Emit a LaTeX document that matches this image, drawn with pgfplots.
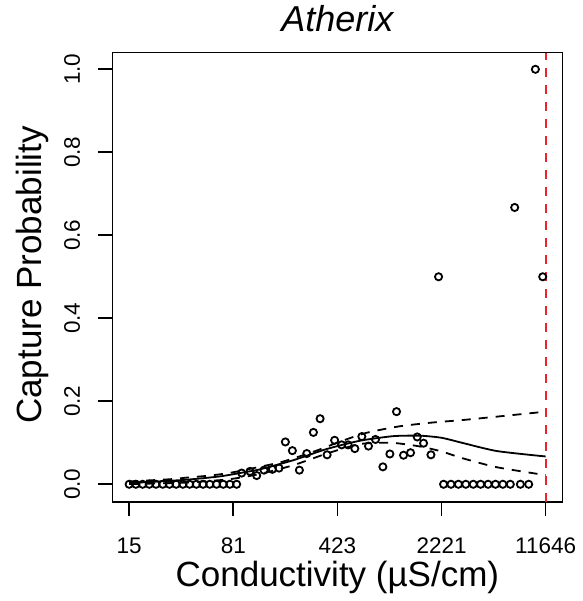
\documentclass[border=0pt]{standalone}
\usepackage{fontspec}
\setmainfont{Liberation Sans}
\usepackage{pgfplots}
\pgfplotsset{compat=1.18}
\definecolor{rred}{RGB}{235,35,45}
\begin{document}
\begin{tikzpicture}
\begin{axis}[name=ax, scale only axis, width=449.8pt, height=449pt,
  xmin=2.442, xmax=9.629, ymin=-0.042, ymax=1.04,
  axis line style={line width=1.6pt},
  every tick/.style={black, line width=1.6pt},
  tick align=outside, major tick length=14pt,
  xtick pos=left, ytick pos=left,
  xtick={2.708,4.372,6.036,7.700,9.363},
  xticklabels={15,81,423,2221,11646},
  ytick={0,0.2,0.4,0.6,0.8,1.0},
  yticklabels={0.0,0.2,0.4,0.6,0.8,1.0},
  ticklabel style={font=\fontsize{22.5}{22.5}\selectfont},
  xticklabel style={anchor=north, inner sep=0pt},
  yticklabel style={rotate=90, anchor=base, inner sep=0pt},
  xticklabel shift=22pt, yticklabel shift=18.5pt,
  title={\itshape Atherix},
  title style={at={(0.5,1.0343)}, anchor=base, inner sep=0pt, font=\fontsize{36}{36}\selectfont},
  xlabel={Conductivity (µS/cm)},
  xlabel style={at={(0.5,-0.1893)}, anchor=base, inner sep=0pt, font=\fontsize{35}{35}\selectfont},
  ylabel={Capture Probability},
  ylabel style={at={(-0.1574,0.505)}, rotate=0, anchor=base, inner sep=0pt, font=\fontsize{35}{35}\selectfont},
  clip=true,
]
% observed capture proportions
\addplot[only marks, mark=o, mark size=3.6pt, mark options={line width=1.8pt, black}] coordinates {
(2.708,0) (2.815,0) (2.923,0) (3.030,0) (3.137,0) (3.245,0) (3.352,0) (3.459,0) (3.567,0)
(3.674,0) (3.782,0) (3.889,0) (3.996,0) (4.104,0) (4.211,0) (4.318,0) (4.426,0)
(4.506,0.027) (4.639,0.031) (4.746,0.021) (4.863,0.034) (4.996,0.036) (5.103,0.039)
(5.204,0.102) (5.316,0.081) (5.428,0.034) (5.546,0.074) (5.652,0.125) (5.759,0.158)
(5.871,0.071) (5.991,0.106) (6.103,0.095) (6.207,0.095) (6.314,0.086) (6.426,0.115)
(6.532,0.092) (6.644,0.108) (6.762,0.042) (6.874,0.073) (6.980,0.175) (7.092,0.070)
(7.204,0.076) (7.311,0.114) (7.412,0.099) (7.530,0.071) (7.652,0.5)
(7.732,0) (7.850,0) (7.969,0) (8.087,0) (8.206,0) (8.324,0) (8.443,0) (8.561,0) (8.679,0) (8.798,0)
(8.959,0) (9.092,0) (8.868,0.667) (9.199,1.0) (9.316,0.5)
};
% fitted curve
\addplot[line width=1.8pt, black, smooth, tension=0.4] coordinates {
(2.708,0.003) (3.092,0.006) (3.626,0.011) (4.159,0.019) (4.586,0.030) (4.799,0.036)
(5.332,0.058) (5.866,0.085) (6.399,0.105) (6.932,0.116) (7.359,0.117) (7.700,0.112)
(8.052,0.099) (8.586,0.080) (9.363,0.067)
};
% upper bound
\addplot[line width=1.8pt, black, dash pattern=on 9pt off 8pt, smooth, tension=0.4] coordinates {
(2.708,0.007) (3.350,0.012) (3.626,0.016) (4.000,0.021) (4.300,0.027) (4.570,0.035)
(5.150,0.054) (5.700,0.081) (6.100,0.104) (6.500,0.124) (7.000,0.139) (7.500,0.148)
(8.050,0.155) (8.586,0.163) (9.363,0.175)
};
% lower bound
\addplot[line width=1.8pt, black, dash pattern=on 9pt off 8pt, smooth, tension=0.4] coordinates {
(2.708,0.0005) (3.600,0.004) (4.300,0.012) (4.800,0.025) (5.332,0.046) (5.866,0.074)
(6.399,0.097) (6.900,0.100) (7.359,0.091) (7.700,0.079) (8.052,0.062) (8.586,0.041)
(9.363,0.022)
};
% vertical reference line
\addplot[line width=1.8pt, rred, dash pattern=on 9pt off 8pt] coordinates {(9.363,-0.042) (9.363,1.04)};
\end{axis}
\pgfresetboundingbox
\useasboundingbox (ax.south west) ++(-112.5pt,-99.3pt) rectangle ++(582pt,601pt);
\end{tikzpicture}
\end{document}
